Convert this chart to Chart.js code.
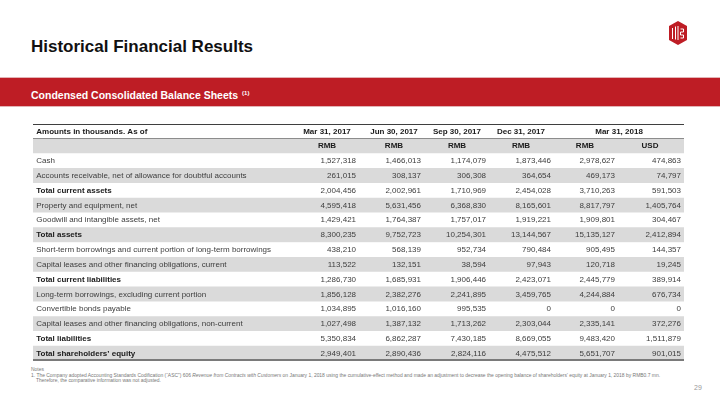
<!DOCTYPE html>
<html>
<head>
<meta charset="utf-8">
<script src="https://cdn.jsdelivr.net/npm/chart.js@4.4.1/dist/chart.umd.min.js"></script>
<style>
  html, body { margin: 0; padding: 0; background: #fff; }
  body { width: 720px; height: 405px; position: relative; overflow: hidden; font-family: "Liberation Sans", Arial, sans-serif; }
  #title { position: absolute; left: 31px; top: 37px; font-size: 17px; font-weight: bold; color: #111; line-height: 20px; }
  #band { position: absolute; left: 0; top: 77px; width: 720px; height: 28px; background: #be1d25; border-top: 1px solid #e2b4b6; border-bottom: 1px solid #e2b4b6; }
  #band span { position: absolute; left: 31px; top: 9px; font-size: 10.5px; font-weight: bold; color: #fff; line-height: 12px; }
  #band sup { font-size: 6px; vertical-align: 4px; margin-left: 1px; }
  #logo { position: absolute; left: 669px; top: 21px; }
  #wrap { position: absolute; left: 33px; top: 124px; width: 651px; height: 237px; }
  #notes { position: absolute; left: 31px; top: 367px; font-size: 4.95px; line-height: 5.6px; color: #777; }
  #notes .ind { padding-left: 5px; }
  #page { position: absolute; left: 694px; top: 384px; font-size: 7px; color: #999; }
</style>
</head>
<body>
<div id="title">Historical Financial Results</div>
<div id="band"><span>Condensed Consolidated Balance Sheets <sup>(1)</sup></span></div>
<svg id="logo" width="18" height="24" viewBox="0 0 18 24">
  <polygon points="9,0 18,5 18,19 9,24 0,19 0,5" fill="#be1d25"/>
  <path d="M3.5 7 v11 M6.5 5.5 v13 M9 5 v14 M11.5 8 h3 v3 h-3 v3 h3 v3 h-3" stroke="#fff" stroke-width="1" fill="none"/>
</svg>
<div id="wrap"><canvas id="tbl"></canvas></div>
<div id="notes">
  <div>Notes</div>
  <div>1. The Company adopted Accounting Standards Codification (“ASC”) 606 <i>Revenue from Contracts with Customers</i> on January 1, 2018 using the cumulative-effect method and made an adjustment to decrease the opening balance of shareholders’ equity at January 1, 2018 by RMB0.7 mn.</div>
  <div class="ind">Therefore, the comparative information was not adjusted.</div>
</div>
<div id="page">29</div>

<script>
// table data
const headerLabel = 'Amounts in thousands. As of';
const periods = ['Mar 31, 2017', 'Jun 30, 2017', 'Sep 30, 2017', 'Dec 31, 2017', 'Mar 31, 2018'];
const currencies = ['RMB', 'RMB', 'RMB', 'RMB', 'RMB', 'USD'];
const rowLabels = [
  'Cash',
  'Accounts receivable, net of allowance for doubtful accounts',
  'Total current assets',
  'Property and equipment, net',
  'Goodwill and intangible assets, net',
  'Total assets',
  'Short-term borrowings and current portion of long-term borrowings',
  'Capital leases and other financing obligations, current',
  'Total current liabilities',
  'Long-term borrowings, excluding current portion',
  'Convertible bonds payable',
  'Capital leases and other financing obligations, non-current',
  'Total liabilities',
  'Total shareholders\u2019 equity'
];
const boldRows = ['Total current assets', 'Total assets', 'Total current liabilities', 'Total liabilities', 'Total shareholders\u2019 equity'];

const mar2017 = [1527318, 261015, 2004456, 4595418, 1429421, 8300235, 438210, 113522, 1286730, 1856128, 1034895, 1027498, 5350834, 2949401];
const jun2017 = [1466013, 308137, 2002961, 5631456, 1764387, 9752723, 568139, 132151, 1685931, 2382276, 1016160, 1387132, 6862287, 2890436];
const sep2017 = [1174079, 306308, 1710969, 6368830, 1757017, 10254301, 952734, 38594, 1906446, 2241895, 995535, 1713262, 7430185, 2824116];
const dec2017 = [1873446, 364654, 2454028, 8165601, 1919221, 13144567, 790484, 97943, 2423071, 3459765, 0, 2303044, 8669055, 4475512];
const mar2018Rmb = [2978627, 469173, 3710263, 8817797, 1909801, 15135127, 905495, 120718, 2445779, 4244884, 0, 2335141, 9483420, 5651707];
const mar2018Usd = [474863, 74797, 591503, 1405764, 304467, 2412894, 144357, 19245, 389914, 676734, 0, 372276, 1511879, 901015];

const valueCols = [mar2017, jun2017, sep2017, dec2017, mar2018Rmb, mar2018Usd];

// layout (fractions of the table width on the x scale)
const labelX = 0.005;
const valueRight = [0.4962, 0.5960, 0.6959, 0.7957, 0.8940, 0.9954];
const unitCenter = [0.4516, 0.5545, 0.6513, 0.7496, 0.8479, 0.9478];
const periodCenter = [0.4516, 0.5545, 0.6513, 0.7496, 0.9002];

const FONT = '"Liberation Sans", Arial, sans-serif';
const allRows = ['header', 'unit'].concat(rowLabels);

const tableText = {
  id: 'tableText',
  afterDatasetsDraw(chart) {
    const ctx = chart.ctx;
    const xs = chart.scales.x, ys = chart.scales.y;
    const area = chart.chartArea;
    ctx.save();
    ctx.textBaseline = 'middle';

    // rules
    ctx.fillStyle = '#3f3f3f';
    ctx.fillRect(area.left, area.top, area.right - area.left, 1);
    const sep = Math.round((ys.getPixelForValue(0) + ys.getPixelForValue(1)) / 2);
    ctx.fillStyle = '#8c8c8c';
    ctx.fillRect(area.left, sep - 1, area.right - area.left, 1);
    ctx.fillStyle = '#7a7a7a';
    ctx.fillRect(area.left, area.bottom - 2, area.right - area.left, 2);

    // header row
    let y = ys.getPixelForValue(0);
    ctx.fillStyle = '#1a1a1a';
    ctx.font = 'bold 8px ' + FONT;
    ctx.textAlign = 'left';
    ctx.fillText(headerLabel, xs.getPixelForValue(labelX), y);
    ctx.textAlign = 'center';
    periods.forEach((p, i) => ctx.fillText(p, xs.getPixelForValue(periodCenter[i]), y));

    // currency row
    y = ys.getPixelForValue(1);
    currencies.forEach((c, i) => ctx.fillText(c, xs.getPixelForValue(unitCenter[i]), y));

    // body rows
    rowLabels.forEach((lab, r) => {
      y = ys.getPixelForValue(r + 2);
      const bold = boldRows.includes(lab);
      ctx.textAlign = 'left';
      ctx.font = (bold ? 'bold ' : '') + '8px ' + FONT;
      ctx.fillStyle = bold ? '#1a1a1a' : '#3d3d3d';
      ctx.fillText(lab, xs.getPixelForValue(labelX), y);
      ctx.font = '8px ' + FONT;
      ctx.fillStyle = '#3d3d3d';
      ctx.textAlign = 'right';
      valueCols.forEach((col, c) => {
        ctx.fillText(col[r].toLocaleString('en-US'), xs.getPixelForValue(valueRight[c]), y);
      });
    });
    ctx.restore();
  }
};

new Chart(document.getElementById('tbl'), {
  type: 'bar',
  data: {
    labels: allRows,
    datasets: [{
      data: allRows.map(() => [0, 1]),
      backgroundColor: allRows.map((_, i) => i % 2 === 1 ? '#dadada' : '#ffffff'),
      borderWidth: 0,
      barPercentage: 1,
      categoryPercentage: 1
    }]
  },
  options: {
    indexAxis: 'y',
    responsive: true,
    maintainAspectRatio: false,
    animation: false,
    layout: { padding: 0 },
    plugins: { legend: { display: false }, tooltip: { enabled: false } },
    scales: {
      x: { type: 'linear', min: 0, max: 1, display: false },
      y: { type: 'category', display: false, offset: true }
    }
  },
  plugins: [tableText]
});
</script>
</body>
</html>
